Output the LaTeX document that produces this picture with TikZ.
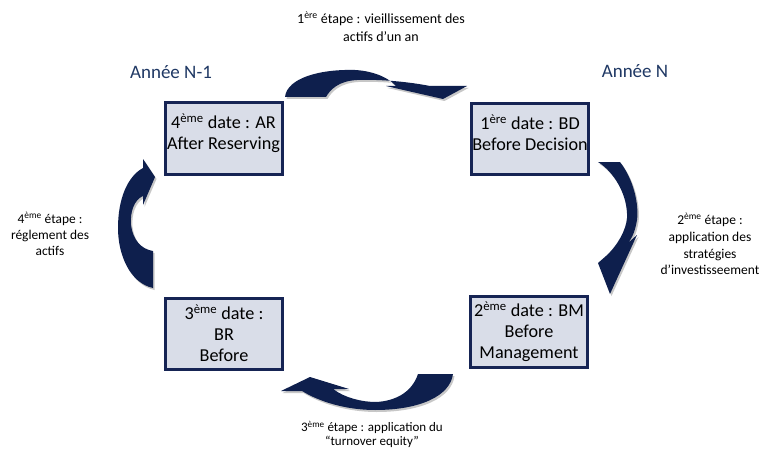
\documentclass[tikz,border=0pt]{standalone}
\usepackage{fontspec}
\setmainfont{Carlito}
\definecolor{navy}{RGB}{14,31,77}
\definecolor{boxfill}{RGB}{217,221,232}
\definecolor{boxline}{RGB}{22,36,84}
\definecolor{anneecol}{RGB}{31,56,100}
\tikzset{
  datebox/.style={draw=boxline, line width=3pt, fill=boxfill, minimum width=117pt, minimum height=71pt, inner sep=0pt, align=center, font=\fontsize{18.2}{21}\selectfont},
  steplbl/.style={align=center},
  annee/.style={text=anneecol, font=\fontsize{19}{22}\selectfont},
  bigarrow/.style={fill=navy},
  arrowshadow/.style={fill=black!22},
  toparrow/.pic={\fill[#1] (285,97) .. controls (287,78) and (320,69) .. (355,70) .. controls (375,71) and (390,79) .. (396,86) -- (386,86) -- (443,99) -- (467,86) -- (430,86) .. controls (410,82) and (380,79) .. (357,80) .. controls (338,81) and (330,90) .. (326,97) -- cycle;},
  botarrow/.pic={\fill[#1] (418,374) -- (453,374) .. controls (450,396) and (420,410) .. (375,410) .. controls (345,410) and (318,401) .. (302,391) -- (281,391) -- (310,377) -- (349,389) -- (333,389) .. controls (345,398) and (362,402) .. (376,402) .. controls (396,401) and (412,392) .. (418,374) -- cycle;},
  leftarrow/.pic={\fill[#1] (153,288) .. controls (130,283) and (118,255) .. (118,228) .. controls (118,198) and (128,176) .. (143,168) -- (143,159) -- (155,177) -- (143,205) -- (143,196) .. controls (134,200) and (130,212) .. (131,225) .. controls (133,240) and (141,249) .. (153,251) -- cycle;},
  rightarrow/.pic={\fill[#1] (598,162) -- (620,162) .. controls (634,180) and (639,205) .. (637,220) .. controls (635,232) and (632,238) .. (628,243) -- (637,235) -- (610,294) -- (598,263) -- (606,256) .. controls (618,245) and (626,230) .. (627,218) .. controls (628,195) and (614,172) .. (598,162) -- cycle;}
}
\begin{document}
\begin{tikzpicture}[x=1pt,y=-1pt]
\useasboundingbox[fill=white] (0,0) rectangle (761,452);

% curved arrows with soft shadow
\pic at (1.5,2) {toparrow=arrowshadow};
\pic at (0,0) {toparrow=bigarrow};
\pic at (1.5,2) {botarrow=arrowshadow};
\pic at (0,0) {botarrow=bigarrow};
\pic at (1.5,2) {leftarrow=arrowshadow};
\pic at (0,0) {leftarrow=bigarrow};
\pic at (1.5,2) {rightarrow=arrowshadow};
\pic at (0,0) {rightarrow=bigarrow};

% date boxes
\node[datebox] (AR) at (223.5,138.5) {\parbox[c][71pt][t]{116pt}{\centering\vspace*{11pt}4\textsuperscript{ème} date : AR\\After Reserving}};
\node[datebox] (BD) at (530,139) {\parbox[c][71pt][t]{116pt}{\centering\vspace*{11pt}1\textsuperscript{ère} date : BD\\Before Decision}};
\node[datebox] (BR) at (224,333.5) {3\textsuperscript{ème} date :\\BR\\Before};
\node[datebox] (BM) at (529,331.5) {2\textsuperscript{ème} date : BM\\Before\\Management};

% year labels
\node[annee] (N1) at (171,72) {Année N-1};
\node[annee] (N) at (635,71) {Année N};

% step labels
\node[steplbl, font=\fontsize{14}{18}\selectfont] (S1) at (381,27) {1\textsuperscript{ère} étape : vieillissement des\\actifs d’un an};
\node[steplbl, font=\fontsize{13.4}{16}\selectfont] (S4) at (50,234) {4\textsuperscript{ème} étape :\\réglement des\\actifs};
\node[steplbl, font=\fontsize{13.5}{16.7}\selectfont] (S2) at (710,244) {2\textsuperscript{ème} étape :\\application des\\stratégies\\d’investisseement};
\node[steplbl, font=\fontsize{13}{14.5}\selectfont] (S3) at (372,434.5) {3\textsuperscript{ème} étape : application du\\“turnover equity”};
\end{tikzpicture}
\end{document}
